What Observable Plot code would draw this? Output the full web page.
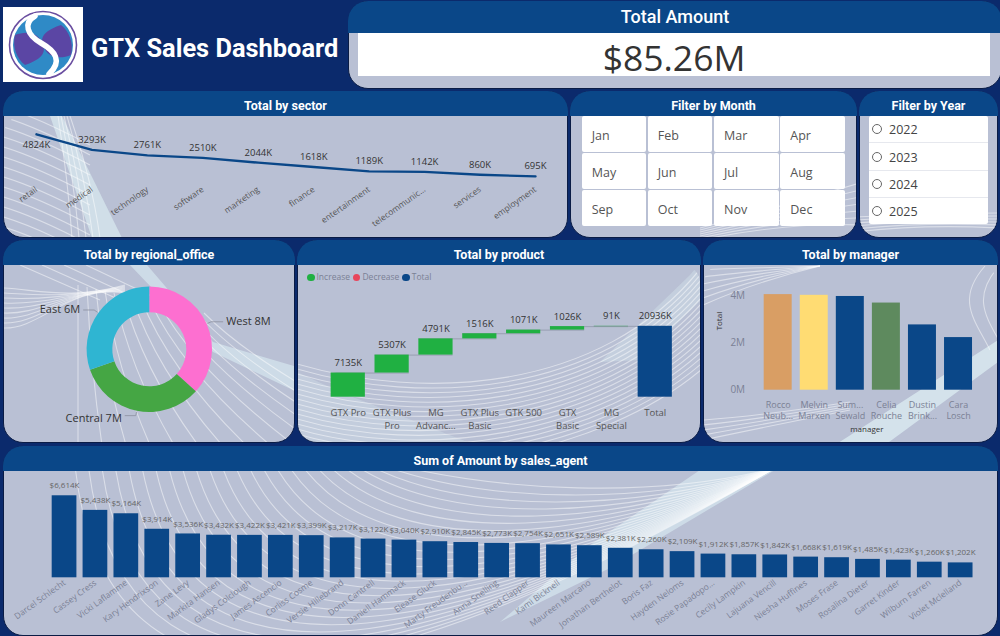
<!DOCTYPE html>
<html>
<head>
<meta charset="utf-8">
<script src="https://cdn.jsdelivr.net/npm/d3@7"></script>
<script src="https://cdn.jsdelivr.net/npm/@observablehq/plot@0.6"></script>
<style>
html,body{margin:0;padding:0;background:#0b2a6c;}
#app{position:relative;width:1000px;height:636px;overflow:hidden;background:#0b2a6c;font-family:"Open Sans",sans-serif;}
.abs{position:absolute;box-sizing:border-box;}
.base{background:#b9c0d4;border:1px solid #0a1c45;border-radius:20px;z-index:1;}
.head{background:#0a4788;border-radius:20px 20px 0 0;color:#fff;z-index:3;text-align:center;font-family:Roboto,sans-serif;font-weight:700;font-size:12.5px;}
.cell{background:#fff;border-radius:2px;color:#555;font-size:12.5px;z-index:4;display:flex;align-items:center;padding:3px 0 0 10px;}
.chart{z-index:4;}
.chart svg{overflow:visible;background:transparent;display:block;}
</style>
</head>
<body>
<div id="app"></div>
<script>
// ---------- data ----------
const sectors = ["retail","medical","technology","software","marketing","finance","entertainment","telecommunic...","services","employment"];
const sectorValues = [4824,3293,2761,2510,2044,1618,1189,1142,860,695];
const months = ["Jan","Feb","Mar","Apr","May","Jun","Jul","Aug","Sep","Oct","Nov","Dec"];
const years = ["2022","2023","2024","2025"];
const offices = ["West","Central","East"];
const officeValues = [7.68,6.92,6.34];
const officeColors = ["#fd6fd0","#45a644","#2fb5d2"];
const products = ["GTX Pro","GTX Plus\nPro","MG\nAdvanc...","GTX Plus\nBasic","GTK 500","GTX\nBasic","MG\nSpecial"];
const productValues = [7135,5307,4791,1516,1071,1026,91];
const productTotalLabel = "Total";
const waterfallTypes = ["Increase","Decrease","Total"];
const waterfallColors = ["#20b042","#e8455c","#0a4788"];
const managers = ["Rocco\nNeub...","Melvin\nMarxen","Sum...\nSewald","Celia\nRouche","Dustin\nBrink...","Cara\nLosch"];
const managerValues = [4.07,4.04,3.99,3.71,2.78,2.24];
const managerColors = ["#d99e64","#ffdc73","#0a4788","#5e8a5e","#0a4788","#0a4788"];
const agents = ["Darcel Schlecht","Cassey Cress","Vicki Laflamme","Kary Hendrixson","Zane Levy","Markita Hansen","Gladys Colclough","James Ascencio","Corliss Cosme","Versie Hillebrand","Donn Cantrell","Daniell Hammack","Elease Gluck","Marty Freudenbu...","Anna Snelling","Reed Clapper","Kami Bicknell","Maureen Marcano","Jonathan Berthelot","Boris Faz","Hayden Neloms","Rosie Papadopo...","Cecily Lampkin","Lajuana Vencill","Niesha Huffines","Moses Frase","Rosalina Dieter","Garret Kinder","Wilburn Farren","Violet Mclelland"];
const agentValues = [6614,5438,5164,3914,3536,3432,3422,3421,3399,3217,3122,3040,2910,2845,2773,2754,2651,2589,2381,2260,2109,1912,1857,1842,1668,1619,1485,1423,1260,1202];

// ---------- helpers ----------
const FONT = '"Open Sans",sans-serif';
const app = document.getElementById("app");
function el(cls, x, y, w, h, html){
  const d = document.createElement("div");
  d.className = "abs " + cls;
  Object.assign(d.style,{left:x+"px",top:y+"px",width:w+"px",height:h+"px"});
  if(html!==undefined) d.innerHTML = html;
  app.appendChild(d);
  return d;
}
const panels = [
  {id:"amount",x:348,y:1,w:654,h:88,title:"Total Amount",hh:32,fs:18},
  {id:"sector",x:3,y:91,w:565,h:147,title:"Total by sector",hh:25},
  {id:"month",x:570,y:91,w:287,h:147,title:"Filter by Month",hh:25},
  {id:"year",x:859,y:91,w:139,h:147,title:"Filter by Year",hh:25},
  {id:"office",x:3,y:240,w:292,h:203,title:"Total by regional_office",hh:25},
  {id:"product",x:297,y:240,w:404,h:203,title:"Total by product",hh:25},
  {id:"manager",x:703,y:240,w:295,h:203,title:"Total by manager",hh:25},
  {id:"agent",x:3,y:446,w:995,h:190,title:"Sum of Amount by sales_agent",hh:25}
];
panels.forEach(p=>{
  el("base",p.x,p.y,p.w,p.h);
  const h = el("head",p.x,p.y,p.w,p.hh,p.title);
  h.style.lineHeight = (p.fs ? p.hh-1 : p.hh+4)+"px";
  if(p.fs) h.style.fontSize = p.fs+"px", h.style.fontWeight = 500;
});
function place(plot,x,y,w,h){
  const d = el("chart",x,y,w,h);
  d.appendChild(plot);
}

// ---------- decorative background lines ----------
const decor = d3.select(app).append("svg").attr("class","abs").attr("width",1000).attr("height",636)
  .style("left",0).style("top",0).style("z-index",2);
const defs = decor.append("defs");
panels.forEach(p=>{
  defs.append("clipPath").attr("id","clip-"+p.id).append("rect")
    .attr("x",p.x+1).attr("y",p.y+p.hh).attr("width",p.w-2).attr("height",p.h-p.hh-1).attr("rx",18);
});
function layer(id){return decor.append("g").attr("clip-path",`url(#clip-${id})`).attr("fill","none").attr("stroke","#fff").attr("stroke-opacity",.48).attr("stroke-width",1.1);}
function band(g,pts,op){g.append("path").attr("d","M"+pts.map(p=>p.join(" ")).join("L")+"Z").attr("fill","#dff1f5").attr("fill-opacity",op).attr("stroke","none");}
// agent panel
let g = layer("agent");
band(g,[[775,470],[700,470],[590,545],[500,622],[610,568]],.55);
for(let i=0;i<=24;i++){const t=i/24;
  g.append("path").attr("d",`M${75+t*320} 465C${110+390*t} ${800-310*t} ${480+170*t} ${640-140*t} 775 468`);
}
// sector panel
g = layer("sector");
band(g,[[50,116],[62,116],[122,238],[92,238]],.6);
for(let i=0;i<=13;i++){g.append("path").attr("d",`M0 ${106+i*10}Q35 ${116+i*10} 90 ${145+i*10}`);}
for(let i=0;i<=4;i++){g.append("path").attr("d",`M${58+i*3} 116Q${68+i*6} 180 ${72+i*7} 238`);}
// office panel
g = layer("office");
band(g,[[130,265],[147,265],[213,342],[297,367],[297,392],[213,352]],.55);
for(let i=0;i<=14;i++){g.append("path").attr("d",`M${78+i*9} ${285+i*2}Q${78+i*13} 370 ${78+i*24} 445`);}
for(let i=0;i<=8;i++){g.append("path").attr("d",`M3 ${288+i*5}C40 ${290+i*5} 70 ${300-i*2} 125 ${285+i}`);}
for(let i=0;i<=3;i++){g.append("path").attr("d",`M${20+i*22} 265L${100+i*20} 300`);}
// product panel
g = layer("product");
band(g,[[297,372],[340,392],[470,443],[297,443]],.28);
band(g,[[600,362],[690,275],[701,262],[701,300],[640,360]],.3);
for(let i=0;i<=17;i++){g.append("path").attr("d",`M297 ${364+i*5}C420 ${400+i*5} 600 ${395+i*3.5} 701 ${268+i*6}`);}
// manager panel
g = layer("manager");
band(g,[[835,445],[998,340],[998,362],[885,445]],.7);
for(let i=0;i<=5;i++){g.append("path").attr("d",`M703 ${270+i*7}C730 ${268+i*5} 770 ${268+i*2} 820 ${266}`);}
for(let i=0;i<=4;i++){g.append("path").attr("d",`M703 ${440-i*5}Q760 ${428-i*3} 850 ${410-i*2}`);}
for(let i=0;i<=1;i++){g.append("path").attr("d",`M${985+i*14} 266C${955+i*14} 300 ${975+i*14} 320 ${990+i*14} 350`);}
// month / year panel foot
g = layer("month");
for(let i=0;i<=6;i++){g.append("path").attr("d",`M700 ${240-i*2}Q790 ${222-i*3} 860 ${225-i*7}`);}
g = layer("year");
for(let i=0;i<=5;i++){g.append("path").attr("d",`M855 ${232-i*3}Q920 ${224-i*2} 1000 ${228-i*3}`);}

// ---------- logo and title ----------
el("chart",3,7,80,75,`<svg width="80" height="75" style="background:#fff">
<circle cx="40" cy="38" r="33.5" fill="none" stroke="#6a4ea0" stroke-width="1.6"/>
<circle cx="40" cy="38" r="30" fill="#2f8ac6"/>
<path d="M12 28C22 24 36 24 40 38C44 48 34 54 22 58C14 52 9 40 12 28Z" fill="#5b46a4"/>
<path d="M68 48C58 52 44 52 40 38C36 28 46 22 58 18C66 24 71 36 68 48Z" fill="#5b46a4"/>
<path d="M32 9C20 16 24 28 38 36C52 44 60 54 46 67" fill="none" stroke="#fff" stroke-width="5.5" stroke-linecap="round"/>
</svg>`);
const t = el("chart",91,28,260,40,"GTX Sales Dashboard");
Object.assign(t.style,{color:"#fff",fontFamily:"Roboto,sans-serif",fontWeight:700,fontSize:"25.4px",lineHeight:"40px",whiteSpace:"nowrap"});

// ---------- total amount card ----------
const card = el("chart",358,33,632,43,"$85.26M");
Object.assign(card.style,{background:"#fff",color:"#333",fontSize:"35.5px",lineHeight:"49px",textAlign:"center",fontFamily:FONT});

// ---------- month filter ----------
const colX=[581.7,647.7,714,780.3], rowY=[116.3,153.3,190];
months.forEach((m,i)=>el("cell",colX[i%4],rowY[Math.floor(i/4)],64.8,35.6,m));

// ---------- year filter ----------
const yearBox = el("cell",869,116.3,118.7,108);
yearBox.style.padding = 0;
years.forEach((y,i)=>{
  const r = document.createElement("div");
  r.className="abs";
  Object.assign(r.style,{left:0,top:(i*27.3)+"px",width:"118.7px",height:"27px",borderBottom:i<3?"1px solid #e6e8ee":"none",color:"#444",fontSize:"12.5px",lineHeight:"27px"});
  r.innerHTML=`<span style="position:absolute;left:2.5px;top:8px;width:10px;height:10px;border:1px solid #666;border-radius:50%;box-sizing:border-box"></span><span style="position:absolute;left:20px;top:0">${y}</span>`;
  yearBox.appendChild(r);
});

// ---------- sector line ----------
const sectorData = sectors.map((s,i)=>({s,v:sectorValues[i]}));
place(Plot.plot({
  width:565,height:122,marginTop:16,marginBottom:55,marginLeft:33,marginRight:33,
  style:{fontFamily:FONT,background:"transparent",overflow:"visible"},
  x:{type:"point",domain:sectors,padding:0,round:false},
  y:{domain:[0,5000],axis:null},
  marks:[
    Plot.axisX({tickSize:0,tickPadding:5,tickRotate:-35,fontSize:8.5,fill:"#555",label:null}),
    Plot.line(sectorData,{x:"s",y:"v",stroke:"#0a4788",strokeWidth:2.4}),
    Plot.text(sectorData,{filter:d=>d.s!=="retail",x:"s",y:"v",text:d=>d.v+"K",dy:-10,fontSize:9.5,fill:"#333"}),
    Plot.text(sectorData,{filter:d=>d.s==="retail",x:"s",y:"v",text:d=>d.v+"K",dy:11,fontSize:9.5,fill:"#333"})
  ]
}),3,116,565,122);

// ---------- donut ----------
const pie = d3.pie().sort(null)(officeValues);
function donutMark(index,scales,values,dim){
  const cx=146.3, cy=84.3, R=62.7, r0=37;
  const root=d3.create("svg:g").attr("transform",`translate(${cx},${cy})`);
  const arc=d3.arc().innerRadius(r0).outerRadius(R);
  root.selectAll("path.slice").data(pie).join("path").attr("class","slice")
    .attr("d",arc).attr("fill",(d,i)=>officeColors[i]);
  pie.forEach((d,i)=>{
    const a=(d.startAngle+d.endAngle)/2, sx=Math.sin(a), sy=-Math.cos(a);
    const px=(R+1)*sx, py=(R+1)*sy, qx=(R+5)*sx, qy=(R+5)*sy;
    const right=sx>0, ex=qx+(right?12:-11);
    root.append("path").attr("d",`M${px} ${py}L${qx} ${qy}L${ex} ${qy}`).attr("fill","none").attr("stroke","#8a8f9e").attr("stroke-width",.8);
    root.append("text").attr("x",ex+(right?3:-3)).attr("y",qy+(i===1?3:-1)).attr("dy","0.35em")
      .attr("text-anchor",right?"start":"end").attr("font-size",11).attr("fill","#333")
      .text(`${offices[i]} ${Math.round(officeValues[i])}M`);
  });
  return root.node();
}
place(Plot.plot({
  width:292,height:178,margin:0,
  style:{fontFamily:FONT,background:"transparent",overflow:"visible"},
  x:{axis:null},y:{axis:null},
  marks:[donutMark]
}),3,265,292,178);

// ---------- waterfall ----------
let acc=0;
const fall = products.map((p,i)=>{const y1=acc; acc+=productValues[i]; return {p,y1,y2:acc,v:productValues[i],type:"Increase"};});
const totalVal = acc;
fall.push({p:productTotalLabel,y1:0,y2:totalVal,v:20936,type:"Total"});
const links = fall.slice(0,-1).map((d,i)=>({a:d.p,b:fall[i+1].p,y:d.y2}));
place(Plot.plot({
  width:404,height:178,marginTop:20,marginBottom:46.3,marginLeft:24,marginRight:19.5,
  style:{fontFamily:FONT,background:"transparent",overflow:"visible"},
  x:{type:"band",domain:fall.map(d=>d.p),padding:.22,round:false},
  y:{domain:[0,33000],axis:null},
  color:{domain:waterfallTypes,range:waterfallColors},
  marks:[
    Plot.axisX({tickSize:0,tickPadding:10,fontSize:9.5,lineHeight:1.35,fill:"#555",label:null}),
    Plot.ruleY(links,{x1:"a",x2:"b",y:"y",stroke:"#8f96a8",strokeWidth:.8}),
    Plot.barY(fall,{x:"p",y1:"y1",y2:"y2",fill:"type"}),
    Plot.text(fall,{x:"p",y:"y2",text:d=>d.v+"K",dy:-10,fontSize:9.5,fill:"#333"})
  ]
}),297,265,404,178);
// waterfall legend
const legend = el("chart",307,264,140,14);
legend.innerHTML = waterfallTypes.map((t,i)=>`<span style="display:inline-flex;align-items:center;margin-right:3px;color:#7b8195;font-size:8.5px;line-height:14px"><span style="width:7.5px;height:7.5px;border-radius:50%;background:${waterfallColors[i]};margin-right:2px"></span>${t}</span>`).join("");
legend.style.whiteSpace="nowrap";

// ---------- manager bars ----------
const mgr = managers.map((m,i)=>({m,v:managerValues[i]}));
place(Plot.plot({
  width:295,height:178,marginTop:19,marginBottom:53.3,marginLeft:52.6,marginRight:17.9,
  style:{fontFamily:FONT,background:"transparent",overflow:"visible"},
  x:{type:"band",domain:managers,padding:.224,round:false},
  y:{domain:[0,4.5]},
  color:{domain:managers,range:managerColors},
  marks:[
    Plot.axisX({tickSize:0,tickPadding:10,fontSize:9,lineHeight:1.25,fill:"#7b8195",label:null}),
    Plot.axisY({ticks:[0,2,4],tickFormat:d=>d+"M",tickSize:0,tickPadding:11,fontSize:10,fill:"#7b8195",label:null}),
    Plot.barY(mgr,{x:"m",y:"v",fill:"m"}),
    Plot.text(["Total"],{frameAnchor:"left",dx:-37,dy:-7,rotate:-90,fontSize:8,fill:"#333"}),
    Plot.text(["manager"],{frameAnchor:"bottom",dy:42,dx:-1.5,fontSize:8,fill:"#333"})
  ]
}),703,265,295,178);

// ---------- agent bars ----------
const agentData = agents.map((a,i)=>({a,v:agentValues[i]}));
place(Plot.plot({
  width:995,height:165,marginTop:19.5,marginBottom:58.7,marginLeft:42.5,marginRight:19.3,
  style:{fontFamily:FONT,background:"transparent",overflow:"visible"},
  x:{type:"band",domain:agents,padding:.2,round:false},
  y:{domain:[0,7000],axis:null},
  marks:[
    Plot.axisX({tickSize:0,tickPadding:4,tickRotate:-36,fontSize:8.5,fill:"#7b8195",label:null}),
    Plot.barY(agentData,{x:"a",y:"v",fill:"#0a4788"}),
    Plot.text(agentData,{x:"a",y:"v",text:d=>"$"+d3.format(",")(d.v)+"K",dy:-10,fontSize:8,fill:"#666"})
  ]
}),3,471,995,165);
</script>
</body>
</html>
